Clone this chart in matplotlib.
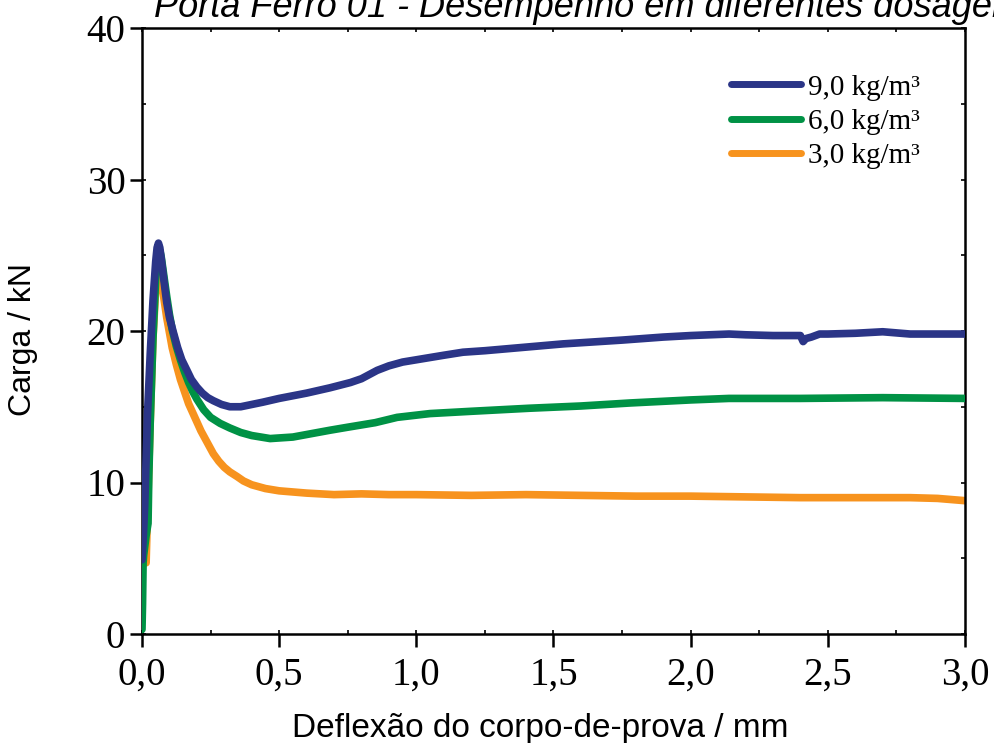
# Carga x deflexao - tres dosagens de fibra
import matplotlib.pyplot as plt
from matplotlib.ticker import MultipleLocator, FixedFormatter, FixedLocator

# 9,0 kg/m3
x_9 = [0.0, 0.005, 0.01, 0.02, 0.03, 0.04, 0.05, 0.055, 0.06, 0.065, 0.07, 0.08, 0.09,
       0.1, 0.113, 0.13, 0.145, 0.164, 0.18, 0.2, 0.22, 0.24, 0.26, 0.29, 0.32, 0.36,
       0.4, 0.44, 0.5, 0.6, 0.685, 0.76, 0.8, 0.857, 0.9, 0.95, 1.0, 1.1, 1.17, 1.25,
       1.535, 1.75, 1.9, 2.0, 2.14, 2.2, 2.3, 2.4, 2.41, 2.42, 2.44, 2.47, 2.5, 2.6,
       2.7, 2.8, 2.9, 3.0]
y_9 = [4.9, 6.5, 8.5, 14.5, 18.5, 22.0, 24.6, 25.5, 25.8, 25.5, 24.8, 23.3, 21.9,
       20.9, 20.0, 18.9, 18.1, 17.4, 16.8, 16.3, 15.9, 15.6, 15.4, 15.15, 15.0, 15.0,
       15.15, 15.3, 15.55, 15.9, 16.25, 16.6, 16.85, 17.4, 17.7, 17.95, 18.1, 18.4, 18.6, 18.7,
       19.15, 19.4, 19.6, 19.7, 19.8, 19.75, 19.7, 19.7, 19.3, 19.5, 19.6, 19.8, 19.8, 19.85,
       19.95, 19.8, 19.8, 19.8]

# 6,0 kg/m3
x_6 = [0.0, 0.002, 0.004, 0.006, 0.015, 0.022, 0.025, 0.03, 0.04, 0.05, 0.06, 0.065,
       0.07, 0.08, 0.09, 0.1, 0.11, 0.125, 0.14, 0.155, 0.17, 0.185, 0.2, 0.225, 0.25,
       0.285, 0.32, 0.36, 0.4, 0.467, 0.55, 0.685, 0.75, 0.85, 0.93, 1.05, 1.2, 1.41,
       1.6, 1.78, 2.0, 2.14, 2.4, 2.7, 3.0]
y_6 = [0.3, 2.0, 4.7, 5.2, 6.5, 7.3, 10.5, 14.0, 19.5, 23.5, 25.2, 25.3,
       24.9, 23.6, 22.3, 21.1, 20.1, 19.0, 18.1, 17.3, 16.6, 16.0, 15.5, 14.8, 14.3,
       13.9, 13.6, 13.3, 13.1, 12.9, 13.0, 13.45, 13.65, 13.95, 14.3, 14.55, 14.7, 14.9,
       15.05, 15.25, 15.45, 15.55, 15.55, 15.6, 15.55]

# 3,0 kg/m3
x_3 = [0.015, 0.02, 0.03, 0.04, 0.05, 0.055, 0.06, 0.065, 0.077, 0.09, 0.1, 0.11,
       0.125, 0.14, 0.155, 0.17, 0.185, 0.2, 0.215, 0.23, 0.245, 0.26, 0.28, 0.3, 0.32,
       0.346, 0.37, 0.4, 0.45, 0.5, 0.6, 0.7, 0.8, 0.9, 1.0, 1.2, 1.4, 1.6, 1.8, 2.0,
       2.2, 2.4, 2.6, 2.8, 2.9, 3.0]
y_3 = [4.7, 8.0, 14.0, 19.5, 22.8, 23.9, 24.0, 23.7, 22.5, 20.9, 19.9, 18.9,
       17.8, 16.8, 16.0, 15.2, 14.6, 14.0, 13.4, 12.9, 12.4, 11.9, 11.4, 11.0, 10.7,
       10.4, 10.1, 9.85, 9.6, 9.45, 9.3, 9.2, 9.25, 9.2, 9.2, 9.15, 9.2, 9.15, 9.1, 9.1,
       9.05, 9.0, 9.0, 9.0, 8.95, 8.8]

labels = ['9,0 kg/m³', '6,0 kg/m³', '3,0 kg/m³']
colors = ['#2b3587', '#009245', '#f7931e']

x_ticks = [0.0, 0.5, 1.0, 1.5, 2.0, 2.5, 3.0]
x_ticklabels = ['0,0', '0,5', '1,0', '1,5', '2,0', '2,5', '3,0']
y_ticks = [0, 10, 20, 30, 40]
y_ticklabels = ['0', '10', '20', '30', '40']

fig = plt.figure(figsize=(9.95, 7.43), dpi=100)
ax = fig.add_axes([142/995, 1 - 634/743, 823/995, 606/743])

# azul por cima, depois verde, laranja por baixo
series = [(x_9, y_9), (x_6, y_6), (x_3, y_3)]
for (xs, ys), lab, c, z in zip(series, labels, colors, [4, 3, 2]):
    ax.plot(xs, ys, color=c, lw=5.5, label=lab, solid_capstyle='round',
            solid_joinstyle='round', zorder=z)

ax.set_xlim(0, 3.0)
ax.set_ylim(0, 40)

ax.xaxis.set_major_locator(FixedLocator(x_ticks))
ax.xaxis.set_major_formatter(FixedFormatter(x_ticklabels))
ax.yaxis.set_major_locator(FixedLocator(y_ticks))
ax.yaxis.set_major_formatter(FixedFormatter(y_ticklabels))
ax.xaxis.set_minor_locator(MultipleLocator(0.25))
ax.yaxis.set_minor_locator(MultipleLocator(5))
ax.xaxis.remove_overlapping_locs = False
ax.yaxis.remove_overlapping_locs = False

for s in ax.spines.values():
    s.set_linewidth(1.8)

ax.tick_params(which='major', direction='out', length=9, width=1.8,
               top=False, right=False, labelsize=28, pad=3)
ax.tick_params(which='minor', direction='in', length=3, width=1.2,
               top=True, right=True)
for t in ax.get_xticklabels() + ax.get_yticklabels():
    t.set_family('Liberation Serif')
ax.tick_params(axis='x', which='major', pad=7)

leg = ax.legend(loc='upper right', bbox_to_anchor=(0.977, 0.967), frameon=False,
                prop={'family': 'Liberation Serif', 'size': 21},
                handlelength=2.4, handletextpad=0.25, labelspacing=0.27)
for h in leg.get_lines():
    h.set_linewidth(5)

fig.text(23/995, 1 - 340/743, 'Carga / kN', rotation=90, ha='center', va='center',
         family='Liberation Sans', fontsize=23)
fig.text(540/995, 1 - 737/743, 'Deflexão do corpo-de-prova / mm', ha='center',
         va='baseline', family='Liberation Sans', fontsize=24)
fig.text(154/995, 1 - 17/743, 'Porta Ferro 01 - Desempenho em diferentes dosagens',
         ha='left', va='baseline', family='Liberation Sans', style='italic', fontsize=26)

fig.savefig('out.png', dpi=100)
